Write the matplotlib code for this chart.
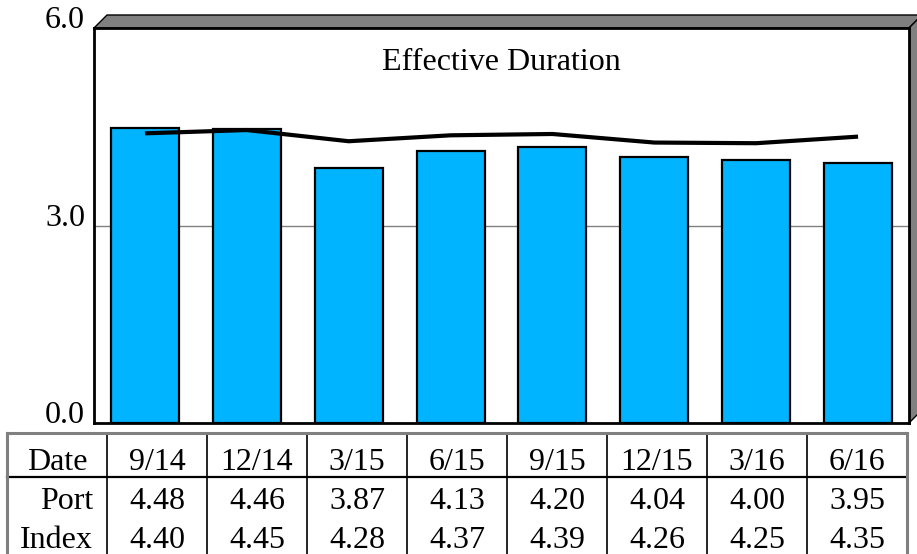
import matplotlib
matplotlib.use("Agg")
import matplotlib.pyplot as plt
from matplotlib.patches import Polygon
from matplotlib.lines import Line2D

dates = ["9/14", "12/14", "3/15", "6/15", "9/15", "12/15", "3/16", "6/16"]
port = [4.48, 4.46, 3.87, 4.13, 4.20, 4.04, 4.00, 3.95]
index_vals = [4.40, 4.45, 4.28, 4.37, 4.39, 4.26, 4.25, 4.35]
yticks = [0.0, 3.0, 6.0]
title = "Effective Duration"
row_labels = ["Date", "Port", "Index"]

W, H = 917, 554
plt.rcParams['font.family'] = ['Liberation Serif', 'DejaVu Serif']
FS = 23

fig = plt.figure(figsize=(W / 100, H / 100), dpi=100)

def fx(x):
    return x / W

def fy(y):
    return 1 - y / H

# 3D gray top and right side
top = Polygon([(fx(94), fy(28)), (fx(107), fy(15)), (fx(922), fy(15)), (fx(909), fy(28))],
              closed=True, facecolor="#808080", edgecolor="black", lw=1.0,
              transform=fig.transFigure, zorder=0)
right = Polygon([(fx(909), fy(28)), (fx(922), fy(15)), (fx(922), fy(410)), (fx(909), fy(423))],
                closed=True, facecolor="#808080", edgecolor="black", lw=1.0,
                transform=fig.transFigure, zorder=0)
fig.add_artist(top)
fig.add_artist(right)

ax = fig.add_axes([fx(94), fy(423), (909 - 94) / W, (423 - 28) / H])
x = list(range(len(dates)))
ax.bar(x, port, width=0.667, color="#00B4FF", edgecolor="black", linewidth=1.6, zorder=2)
ax.plot(x, index_vals, color="black", linewidth=3.0, zorder=3, solid_capstyle="butt")
ax.set_xlim(-0.5, len(dates) - 0.5)
ax.set_ylim(0, 6)
ax.set_yticks(yticks)
ax.set_yticklabels([f"{v:.1f}" for v in yticks], fontsize=FS)
for lbl in ax.get_yticklabels():
    lbl.set_verticalalignment("baseline")
ax.tick_params(axis="y", length=0, pad=6.5)
ax.set_xticks([])
ax.axhline(3.0, color="#808080", lw=1.0, zorder=1)
for s in ax.spines.values():
    s.set_color("black")
    s.set_linewidth(2.0)
ax.text(0.5, (423 - 70) / 395, title, transform=ax.transAxes,
        ha="center", va="baseline", fontsize=FS)

# Table
tx0, tx1 = 7, 907
ty0, ty1 = 433, 570
tax = fig.add_axes([fx(tx0), fy(ty1), (tx1 - tx0) / W, (ty1 - ty0) / H])
ncol = len(dates) + 1
tax.set_xlim(0, ncol)
tax.set_ylim(ty1, ty0)
tax.axis("off")
# vertical inner lines
for c in range(1, ncol):
    tax.add_line(Line2D([c, c], [ty0, ty1], color="black", lw=1.2))
# header separator
tax.add_line(Line2D([0, ncol], [477, 477], color="black", lw=1.6))
# outer border gray
tax.add_line(Line2D([0, 0], [ty1, ty0], color="#808080", lw=2.2))
tax.add_line(Line2D([0, ncol], [ty0, ty0], color="#808080", lw=2.2))
tax.add_line(Line2D([ncol, ncol], [ty0, ty1], color="#808080", lw=2.2))
for ln in tax.lines:
    ln.set_clip_on(False)

baselines = [470, 509, 548]
tax.text(0.5, baselines[0], row_labels[0], ha="center", va="baseline", fontsize=FS)
tax.text(0.86, baselines[1], row_labels[1], ha="right", va="baseline", fontsize=FS)
tax.text(0.86, baselines[2], row_labels[2], ha="right", va="baseline", fontsize=FS)
for i, d in enumerate(dates):
    cx = i + 1.5
    tax.text(cx, baselines[0], d, ha="center", va="baseline", fontsize=FS)
    tax.text(cx, baselines[1], f"{port[i]:.2f}", ha="center", va="baseline", fontsize=FS)
    tax.text(cx, baselines[2], f"{index_vals[i]:.2f}", ha="center", va="baseline", fontsize=FS)

fig.savefig("out.png", dpi=100)
